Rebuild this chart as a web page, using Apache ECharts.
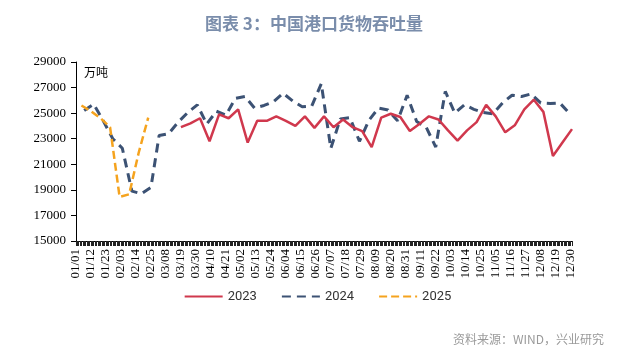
<!DOCTYPE html>
<html>
<head>
<meta charset="utf-8">
<script src="https://cdn.jsdelivr.net/npm/echarts@6/dist/echarts.min.js"></script>
<style>html,body{margin:0;padding:0;background:#fff;}#c{width:635px;height:360px;}</style>
</head>
<body>
<div id="c"></div>
<script>
// Category axis: calendar days MM/DD (non-leap year)
var monthLengths = [31,28,31,30,31,30,31,31,30,31,30,31];
var categories = [];
for (var m = 0; m < 12; m++) {
  for (var d = 1; d <= monthLengths[m]; d++) {
    categories.push((m < 9 ? '0' : '') + (m + 1) + '/' + (d < 10 ? '0' : '') + d);
  }
}
var yTicks = [15000, 17000, 19000, 21000, 23000, 25000, 27000, 29000];

var dates2023 = ['03/19','03/26','04/02','04/09','04/16','04/23','04/30','05/07','05/14','05/21','05/28',
  '06/04','06/11','06/18','06/25','07/02','07/09','07/16','07/23','07/30','08/06','08/13','08/20','08/27',
  '09/03','09/10','09/17','09/24','10/01','10/08','10/15','10/22','10/29','11/05','11/12','11/19','11/26',
  '12/03','12/10','12/17','12/24','12/31'];
var values2023 = [23900,24200,24600,22800,24900,24600,25300,22700,24400,24400,24750,
  24400,24000,24750,23850,24750,23900,24500,23900,23600,22350,24650,24950,24700,
  23600,24150,24750,24500,23650,22850,23650,24300,25650,24750,23500,24050,25300,
  26050,25100,21650,22700,23750];

var dates2024 = ['01/07','01/14','01/21','01/28','02/04','02/11','02/18','02/25',
  '03/03','03/10','03/17','03/24','03/31','04/07','04/14','04/21','04/28',
  '05/05','05/12','05/19','05/26','06/02','06/09','06/16','06/23','06/30',
  '07/07','07/14','07/21','07/28','08/04','08/11','08/18','08/25',
  '09/01','09/08','09/15','09/22','09/29','10/06','10/13','10/20','10/27',
  '11/03','11/10','11/17','11/24','12/01','12/08','12/15','12/22','12/29'];
var values2024 = [25200,25700,24400,23000,22250,18900,18700,19200,
  23250,23400,24300,25050,25650,24150,25150,24850,26150,
  26300,25400,25600,25900,26550,25950,25500,25550,27300,
  22250,24550,24650,22800,24450,25400,25250,24400,
  26400,24350,23900,22350,26700,25000,25650,25300,25050,
  24950,25800,26400,26300,26500,25800,25750,25800,25000];

var dates2025 = ['01/05','01/12','01/19','01/26','02/02','02/09','02/16','02/23'];
var values2025 = [25600,25150,24600,23900,18450,18650,21900,24650];

function pairs(ds, vs) { return ds.map(function (d, i) { return [d, vs[i]]; }); }

var chart = echarts.init(document.getElementById('c'), null, {renderer: 'canvas'});
chart.setOption({
  animation: false,
  backgroundColor: '#ffffff',
  title: {
    text: '图表 3：中国港口货物吞吐量',
    left: 200, top: 10,
    textStyle: {fontFamily: 'Noto Sans CJK SC', fontSize: 17, fontWeight: 'bold', color: '#7a8dab'}
  },
  grid: {left: 76, right: 63, top: 62, bottom: 119},
  legend: {
    top: 285, left: 'center',
    itemWidth: 38, itemHeight: 10, itemGap: 24,
    itemStyle: {opacity: 0},
    textStyle: {fontFamily: 'Roboto', fontSize: 13, color: '#333'},
    data: ['2023', '2024', '2025']
  },
  xAxis: {
    type: 'category', data: categories, boundaryGap: false,
    axisLine: {lineStyle: {color: '#000', width: 1}},
    axisTick: {show: true, interval: 0, length: 5, lineStyle: {color: '#222'}},
    axisLabel: {interval: 10, rotate: 90, margin: 8, fontFamily: 'Liberation Serif', fontSize: 13, color: '#000'},
    splitLine: {show: false}
  },
  yAxis: {
    type: 'value', min: yTicks[0], max: yTicks[yTicks.length - 1], interval: 2000,
    axisLine: {show: true, lineStyle: {color: '#000', width: 1}},
    axisTick: {show: true, length: 5, lineStyle: {color: '#000'}},
    axisLabel: {fontFamily: 'Liberation Serif', fontSize: 13, color: '#000', margin: 10,
      formatter: function (v) { return String(v); }},
    splitLine: {show: false}
  },
  graphic: [
    {type: 'text', left: 84, top: 66, style: {text: '万吨', fontFamily: 'Noto Sans CJK SC', fontSize: 12, fill: '#000'}},
    {type: 'text', right: 31, top: 333, style: {text: '资料来源：WIND，兴业研究', fontFamily: 'Noto Sans CJK SC', fontSize: 12, fill: '#9a9a9a'}}
  ],
  series: [
    {name: '2023', type: 'line', data: pairs(dates2023, values2023), symbol: 'none',
      lineStyle: {color: '#d0384d', width: 2.5}, itemStyle: {color: '#d0384d'}, z: 3},
    {name: '2024', type: 'line', data: pairs(dates2024, values2024), symbol: 'none',
      lineStyle: {color: '#3c5274', width: 3, type: [9, 6]}, itemStyle: {color: '#3c5274'}, z: 2},
    {name: '2025', type: 'line', data: pairs(dates2025, values2025), symbol: 'none',
      lineStyle: {color: '#f5a31e', width: 2.5, type: [8, 4]}, itemStyle: {color: '#f5a31e'}, z: 4}
  ]
});
</script>
</body>
</html>
